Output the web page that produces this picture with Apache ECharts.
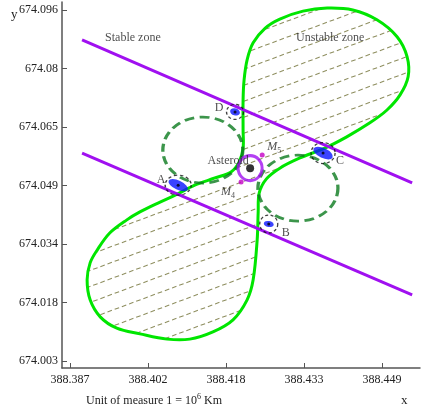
<!DOCTYPE html>
<html>
<head>
<meta charset="utf-8">
<script src="https://cdn.jsdelivr.net/npm/echarts@6/dist/echarts.min.js"></script>
<style>
  html, body { margin: 0; padding: 0; background: #fff; }
  #chart { width: 422px; height: 414px; }
</style>
</head>
<body>
<div id="chart"></div>
<script>
// axis ticks
const xTicks = [388.387, 388.4025, 388.418, 388.4335, 388.449];
const xTickLabels = ['388.387', '388.402', '388.418', '388.433', '388.449'];
const yTicks = [674.003, 674.0185, 674.034, 674.0495, 674.065, 674.0805, 674.096];
const yTickLabels = ['674.003', '674.018', '674.034', '674.049', '674.065', '674.08', '674.096'];

// boundary of the unstable zone
const zoneCurve = [
  [388.4214, 674.0642], [388.4214, 674.0722], [388.4216, 674.0775], [388.4222, 674.0828],
  [388.4234, 674.0873], [388.4258, 674.0912], [388.4287, 674.0936], [388.4333, 674.0957],
  [388.4381, 674.0965], [388.4432, 674.0960], [388.4480, 674.0934], [388.4520, 674.0889],
  [388.4540, 674.0836], [388.4542, 674.0783], [388.4526, 674.0735], [388.4500, 674.0695],
  [388.4466, 674.0661], [388.4420, 674.0624], [388.4373, 674.0592], [388.4327, 674.0568],
  [388.4287, 674.0541], [388.4260, 674.0512], [388.4246, 674.0475], [388.4244, 674.0425],
  [388.4242, 674.0351], [388.4234, 674.0245], [388.4222, 674.0192], [388.4194, 674.0139],
  [388.4154, 674.0107], [388.4108, 674.0088], [388.4063, 674.0088], [388.4009, 674.0102],
  [388.3963, 674.0117], [388.3930, 674.0147], [388.3910, 674.0192], [388.3904, 674.0245],
  [388.3910, 674.0290], [388.3924, 674.0324], [388.3949, 674.0369], [388.3983, 674.0404],
  [388.4009, 674.0425], [388.4049, 674.0451], [388.4083, 674.0472], [388.4118, 674.0496],
  [388.4158, 674.0515], [388.4190, 674.0531], [388.4206, 674.0557], [388.4214, 674.0594]
];

// the two straight purple lines
const upperLine = [[388.3894, 674.0881], [388.4550, 674.0502]];
const lowerLine = [[388.3894, 674.0581], [388.4550, 674.0205]];

// dashed circles, asteroid, M4 / M5
const circleCenters = [[388.4134, 674.0589], [388.4323, 674.0488]];
const asteroid = [388.4228, 674.0541];
const m5 = [388.4252, 674.0576];
const m4 = [388.4210, 674.0504];

// points A, B, C, D
const pointNames = ['A', 'B', 'C', 'D'];
const pointX = [388.4085, 388.4265, 388.4373, 388.4198];
const pointY = [674.0496, 674.0393, 674.0581, 674.0690];

// zone captions
const zoneNames = ['Stable zone', 'Unstable zone'];
const zoneLabelX = [388.3995, 388.4387];
const zoneLabelY = [674.0886, 674.0886];

const serif = 'Liberation Serif';

// looks for each of A..D
const ellSize = [[21, 9], [10, 6], [21, 10], [10, 7]];
const ellRot = [-25, -10, -25, -15];
const ringSize = [[26, 20], [18, 18], [24, 21], [17, 15]];
const nameOffset = [[-17, -5], [17, 9], [17, 8], [-16, -4]];

function tickText(ticks, labels) {
  return function (v) {
    let best = 0;
    ticks.forEach((t, i) => { if (Math.abs(t - v) < Math.abs(ticks[best] - v)) best = i; });
    return labels[best];
  };
}

// dashed hatch pattern
const TW = 43, TH = 16;
const hatch = document.createElement('canvas');
hatch.width = TW; hatch.height = TH;
const g = hatch.getContext('2d');
g.strokeStyle = '#8f8f60';
g.lineWidth = 1.1;
const per = Math.hypot(TW, TH) / 6;
g.setLineDash([per * 0.62, per * 0.38]);
[-TH, 0, TH].forEach(dy => {
  g.beginPath(); g.moveTo(0, TH + dy); g.lineTo(TW, dy); g.stroke();
});

const chart = echarts.init(document.getElementById('chart'));

const option = {
  animation: false,
  grid: { left: 62, right: 2, top: 2, bottom: 46, outerBoundsMode: 'none' },
  title: {
    text: '{a|Unit of measure 1 = 10}{b|6}{a| Km}',
    left: 86, top: 393, padding: 0,
    textStyle: {
      fontWeight: 'normal',
      rich: {
        a: { fontFamily: serif, fontWeight: 'normal', fontSize: 12, color: '#222', lineHeight: 16 },
        b: { fontFamily: serif, fontWeight: 'normal', fontSize: 8, color: '#222', lineHeight: 16, verticalAlign: 'top' }
      }
    }
  },
  graphic: [
    { type: 'text', left: 11, top: 8, style: { text: 'y', font: '13px "Liberation Serif"', fill: '#222' } },
    { type: 'text', left: 401, top: 394, style: { text: 'x', font: '13px "Liberation Serif"', fill: '#222' } }
  ],
  xAxis: {
    type: 'value', min: 388.38541, max: 388.45656,
    axisLine: { onZero: false, lineStyle: { color: '#555', width: 1.5 } },
    axisTick: { inside: true, length: 5, customValues: xTicks, lineStyle: { color: '#555' } },
    axisLabel: { customValues: xTicks, formatter: tickText(xTicks, xTickLabels),
      fontFamily: serif, fontSize: 12, color: '#222', margin: 6 },
    splitLine: { show: false }
  },
  yAxis: {
    type: 'value', min: 674.00115, max: 674.09812,
    axisLine: { show: true, onZero: false, lineStyle: { color: '#555', width: 1.5 } },
    axisTick: { show: true, inside: true, length: 5, customValues: yTicks, lineStyle: { color: '#555' } },
    axisLabel: { customValues: yTicks, formatter: tickText(yTicks, yTickLabels),
      fontFamily: serif, fontSize: 12, color: '#222', margin: 4 },
    splitLine: { show: false }
  },
  series: [
    {
      type: 'custom', silent: true, z: 2,
      data: zoneCurve,
      renderItem: function (params, api) {
        if (params.dataIndex !== 0) return;
        const pts = zoneCurve.map(p => api.coord(p));
        return {
          type: 'polygon',
          shape: { points: pts, smooth: 0.35 },
          style: { fill: { image: hatch, repeat: 'repeat' }, stroke: '#00e600', lineWidth: 3 }
        };
      }
    },
    {
      type: 'line', data: upperLine, symbol: 'none', silent: true, z: 3,
      lineStyle: { color: '#a010f0', width: 3 }
    },
    {
      type: 'line', data: lowerLine, symbol: 'none', silent: true, z: 3,
      lineStyle: { color: '#a010f0', width: 3 }
    },
    {
      type: 'scatter', data: circleCenters, symbol: 'circle', symbolSize: [80, 66], silent: true, z: 4,
      itemStyle: { color: 'rgba(0,0,0,0)', borderColor: '#0b7a1e', borderWidth: 3, borderType: [9, 5] }
    },
    {
      type: 'scatter', silent: true, z: 5, symbol: 'circle',
      data: pointNames.map((n, i) => ({
        value: [pointX[i], pointY[i]], symbolSize: ellSize[i], symbolRotate: ellRot[i]
      })),
      itemStyle: { color: '#0a14ff' }
    },
    {
      type: 'scatter', silent: true, z: 6, symbol: 'circle',
      data: pointNames.map((n, i) => ({
        value: [pointX[i], pointY[i]], name: n, symbolSize: ringSize[i],
        label: { offset: nameOffset[i] }
      })),
      itemStyle: { color: 'rgba(0,0,0,0)', borderColor: '#111', borderWidth: 1.3, borderType: [3, 2.5] },
      label: { show: true, position: 'inside', formatter: '{b}', fontFamily: serif, fontSize: 12, color: '#222' }
    },
    {
      type: 'scatter', silent: true, z: 7, symbol: 'circle', symbolSize: 3,
      data: pointNames.map((n, i) => [pointX[i], pointY[i]]),
      itemStyle: { color: '#000' }
    },
    {
      type: 'scatter', silent: true, z: 6, symbol: 'circle', symbolSize: [24, 25],
      data: [asteroid],
      itemStyle: { color: 'rgba(0,0,0,0)', borderColor: '#a010f0', borderWidth: 3 },
      label: { show: true, position: 'inside', offset: [-22, -7], formatter: 'Asteroid',
        fontFamily: serif, fontSize: 12, color: '#222' }
    },
    {
      type: 'scatter', silent: true, z: 7, symbol: 'circle', symbolSize: 8,
      data: [asteroid], itemStyle: { color: '#000' }
    },
    {
      type: 'scatter', silent: true, z: 7, symbol: 'circle', symbolSize: 5,
      data: [
        { value: m5, name: '5', label: { offset: [12, -8] } },
        { value: m4, name: '4', label: { offset: [-13, 10] } }
      ],
      itemStyle: { color: '#c400c4' },
      label: {
        show: true, position: 'inside', formatter: '{m|M}{s|{b}}',
        rich: {
          m: { fontFamily: serif, fontStyle: 'italic', fontSize: 12, color: '#222', lineHeight: 15 },
          s: { fontFamily: serif, fontSize: 8, color: '#222', lineHeight: 15, verticalAlign: 'bottom' }
        }
      }
    },
    {
      type: 'scatter', silent: true, z: 7, symbolSize: 1,
      data: zoneNames.map((n, i) => ({ value: [zoneLabelX[i], zoneLabelY[i]], name: n })),
      itemStyle: { color: 'rgba(0,0,0,0)' },
      label: { show: true, position: 'inside', formatter: '{b}', fontFamily: serif, fontSize: 12, color: '#222' }
    }
  ]
};

chart.setOption(option);
</script>
</body>
</html>
